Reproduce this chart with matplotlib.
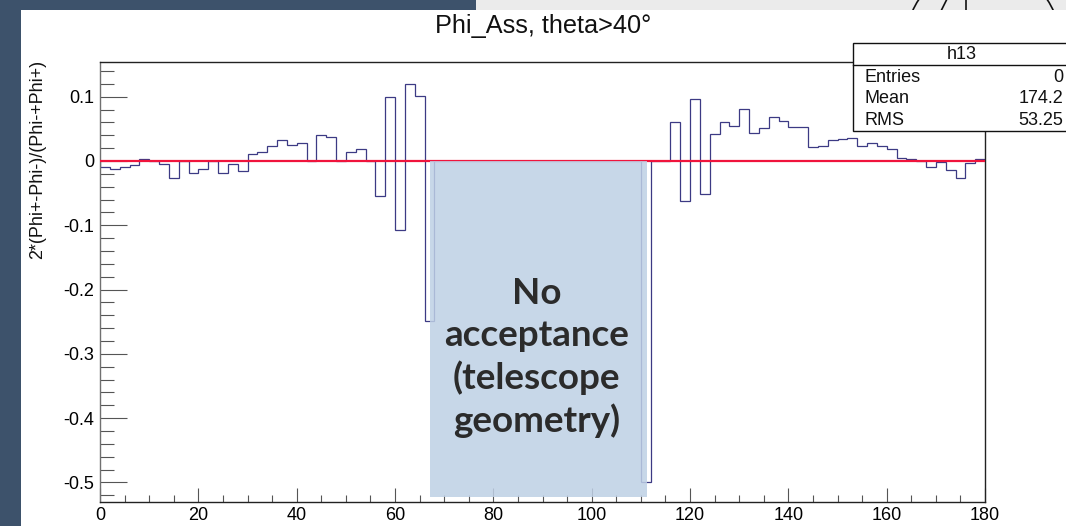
import numpy as np
import matplotlib.pyplot as plt
from matplotlib.patches import Rectangle, Circle
from matplotlib.lines import Line2D
from matplotlib.ticker import MultipleLocator, FixedLocator, FixedFormatter

plt.rcParams['font.family'] = ['Liberation Sans', 'DejaVu Sans']
plt.rcParams['axes.unicode_minus'] = False

# asymmetry per 2 degree bin, 0..180
bin_edges = np.linspace(0, 180, 91)
phi_asym = [
    -0.009, -0.012, -0.009, -0.007, 0.003, 0.0, -0.004, -0.026, 0.0, -0.018,
    -0.013, 0.0, -0.018, -0.004, -0.015, 0.011, 0.014, 0.024, 0.033, 0.025,
    0.028, 0.0, 0.041, 0.038, 0.0, 0.0145, 0.019, 0.0, -0.055, 0.100,
    -0.107, 0.120, 0.101, -0.249, 0.0, 0.0, 0.0, 0.0, 0.0, 0.0,
    0.0, 0.0, 0.0, 0.0, 0.0, 0.0, 0.0, 0.0, 0.0, 0.0,
    0.0, 0.0, 0.0, 0.0, 0.0, -0.499, 0.0, 0.0, 0.061, -0.062,
    0.097, -0.051, 0.0415, 0.061, 0.054, 0.081, 0.043, 0.052, 0.068, 0.062,
    0.053, 0.053, 0.022, 0.023, 0.032, 0.034, 0.036, 0.023, 0.028, 0.023,
    0.019, 0.005, 0.003, 0.0, -0.010, -0.002, -0.014, -0.027, -0.003, 0.003,
]
fit_level = 0.0

y_ticks = [-0.5, -0.4, -0.3, -0.2, -0.1, 0.0, 0.1]
y_tick_labels = ['-0.5', '-0.4', '-0.3', '-0.2', '-0.1', '0', '0.1']
x_ticks = [0, 20, 40, 60, 80, 100, 120, 140, 160, 180]

stats_names = ['Entries', 'Mean', 'RMS']
stats_values = ['0', '174.2', '53.25']

W, H = 1066, 526


def fx(px):
    return px / W


def fy(py):
    return 1 - py / H


fig = plt.figure(figsize=(W / 100, H / 100), dpi=100)
fig.patch.set_facecolor('#3d526b')

# grey strip and symbol at the top right
strip = Rectangle((fx(476), fy(10)), 1 - fx(476), 10 / H,
                  facecolor='#ebebeb', edgecolor='none', zorder=-3)
fig.add_artist(strip)
ring = Circle((9.83, (H - 42) / 100), 0.77, transform=fig.dpi_scale_trans,
              facecolor='none', edgecolor='#111111', lw=1.2, zorder=-2)
fig.add_artist(ring)
ring.set_clip_path(strip)
fig.add_artist(Line2D([fx(966), fx(966)], [fy(0), fy(10)], color='#111111', lw=1.2, zorder=-2))
fig.add_artist(Line2D([fx(941.5), fx(946.5)], [fy(10), fy(0)], color='#111111', lw=1.2, zorder=-2))

# white canvas
fig.add_artist(Rectangle((fx(20.5), 0), 1 - fx(20.5), fy(10),
                         facecolor='white', edgecolor='none', zorder=-1))

ax = fig.add_axes([fx(100), fy(502.3), fx(985) - fx(100), (502.3 - 62.3) / H])
ax.set_facecolor('white')

ax.stairs(phi_asym, bin_edges, baseline=0, color='#3c3a84', lw=0.9, zorder=2)
ax.axhline(fit_level, color='#f0143c', lw=1.6, zorder=3)

ax.set_xlim(0, 180)
ax.set_ylim(-0.531, 0.1535)

ax.xaxis.set_major_locator(FixedLocator(x_ticks))
ax.xaxis.set_minor_locator(MultipleLocator(5))
ax.yaxis.set_major_locator(FixedLocator(y_ticks))
ax.yaxis.set_major_formatter(FixedFormatter(y_tick_labels))
ax.yaxis.set_minor_locator(MultipleLocator(0.02))

ax.tick_params(axis='y', which='major', direction='in', length=19.5, width=0.8,
               color='#555555', labelsize=13, pad=4.3)
ax.tick_params(axis='y', which='minor', direction='in', length=10, width=0.8, color='#555555')
ax.tick_params(axis='x', which='major', direction='in', length=10, width=0.8,
               color='#555555', labelsize=13, pad=3.5)
ax.tick_params(axis='x', which='minor', direction='in', length=5, width=0.8, color='#555555')
for side in ['top', 'right', 'bottom']:
    ax.spines[side].set_color('#222222')
    ax.spines[side].set_linewidth(1.0)
ax.spines['left'].set_color('#707070')
ax.spines['left'].set_linewidth(1.0)

# no acceptance region overlay
ax.add_patch(Rectangle((67.1, -0.523), 44.1, 0.523, facecolor='#bed0e5',
                       alpha=0.85, edgecolor='none', zorder=4))
ax.text(88.8, -0.306, 'No\nacceptance\n(telescope\ngeometry)', ha='center', va='center',
        fontsize=26.5, fontweight='bold', family=['Lato', 'DejaVu Sans'],
        color='#2b2b2b', linespacing=1.3, zorder=5)

fig.text(fx(543), fy(33.3), 'Phi_Ass, theta>40°', ha='center', va='baseline',
         fontsize=18.2, color='#111111')
fig.text(fx(38), fy(60), '2*(Phi+-Phi-)/(Phi-+Phi+)', rotation=90, ha='center', va='top',
         fontsize=12.9, color='#111111')

# stats box
fig.add_artist(Rectangle((fx(853), fy(131)), fx(1071) - fx(853), (131 - 43) / H,
                         facecolor='white', edgecolor='#111111', lw=1.0, zorder=5))
fig.add_artist(Line2D([fx(853), 1], [fy(65.3), fy(65.3)], color='#111111', lw=1.0, zorder=6))
fig.text(fx(962), fy(54.5), 'h13', ha='center', va='center', fontsize=13, color='#111111', zorder=7)
for i, (name, val) in enumerate(zip(stats_names, stats_values)):
    yy = fy(77 + 21.8 * i)
    fig.text(fx(864), yy, name, ha='left', va='center', fontsize=13, color='#111111', zorder=7)
    fig.text(fx(1063), yy, val, ha='right', va='center', fontsize=13, color='#111111', zorder=7)

fig.savefig('out.png', dpi=100, facecolor=fig.get_facecolor())
